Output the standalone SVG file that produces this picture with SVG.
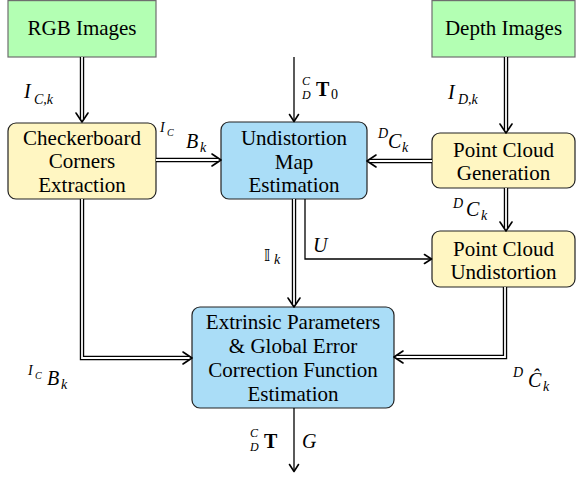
<svg xmlns="http://www.w3.org/2000/svg" width="576" height="478" viewBox="0 0 576 478">
<defs>
<style>
.green{fill:#b3ffb3;stroke:#6e6e6e;stroke-width:1.2}
.yellow{fill:#fff6c2;stroke:#222;stroke-width:1.2}
.blue{fill:#aaddf7;stroke:#222;stroke-width:1.2}
text{font-family:'Liberation Serif','Times New Roman',Times,'DejaVu Serif',serif;fill:#000}
.lbl{font-size:21px;text-anchor:middle}
.m{font-style:italic;font-size:20px}
.s{font-style:italic;font-size:14px}
.sc{font-style:italic;font-size:12px}
.ss{font-style:italic;font-size:10px}
.up{font-style:normal}
.bf{font-weight:bold;font-size:20px}
.bb{font-family:'DejaVu Sans','DejaVu Serif',sans-serif;font-size:16px}
.dout{fill:none;stroke:#000;stroke-width:4.4;stroke-linejoin:miter}
.din{fill:none;stroke:#fff;stroke-width:1.8;stroke-linejoin:miter}
.single{fill:none;stroke:#000;stroke-width:1.3}
.tip{fill:none;stroke:#000;stroke-width:1.6;stroke-linecap:round;stroke-linejoin:round}
</style>
</defs>

<g id="rgb">
<rect class="green" x="8" y="0.6" width="148" height="56.4"/>
<text class="lbl" x="82" y="35">RGB Images</text>
</g>
<g id="depth">
<rect class="green" x="432" y="0.6" width="143" height="56.4"/>
<text class="lbl" x="503.5" y="35">Depth Images</text>
</g>
<g id="checker">
<rect class="yellow" x="8" y="123" width="148" height="76" rx="8"/>
<text class="lbl" x="82" y="144.5">Checkerboard</text>
<text class="lbl" x="82" y="168">Corners</text>
<text class="lbl" x="82" y="191.5">Extraction</text>
</g>
<g id="undist">
<rect class="blue" x="221" y="122" width="146" height="77" rx="8"/>
<text class="lbl" x="294" y="145">Undistortion</text>
<text class="lbl" x="294" y="168.5">Map</text>
<text class="lbl" x="294" y="192">Estimation</text>
</g>
<g id="pcg">
<rect class="yellow" x="432" y="133" width="143" height="55" rx="8"/>
<text class="lbl" x="503.5" y="157">Point Cloud</text>
<text class="lbl" x="503.5" y="180">Generation</text>
</g>
<g id="pcu">
<rect class="yellow" x="432" y="231" width="143" height="56" rx="8"/>
<text class="lbl" x="503.5" y="255.5">Point Cloud</text>
<text class="lbl" x="503.5" y="279">Undistortion</text>
</g>
<g id="extrinsic">
<rect class="blue" x="192" y="307" width="202" height="101" rx="8"/>
<text class="lbl" x="293" y="329">Extrinsic Parameters</text>
<text class="lbl" x="293" y="353">&amp; Global Error</text>
<text class="lbl" x="293" y="377">Correction Function</text>
<text class="lbl" x="293" y="400.5">Estimation</text>
</g>

<g id="connectors">
<path class="dout" d="M82 57 V120"/><path class="din" d="M82 57 V120"/>
<polyline class="tip" points="76,113 82,122 88,113"/>

<path class="dout" d="M506 57 V130"/><path class="din" d="M506 57 V130"/>
<polyline class="tip" points="500,124 506,133 512,124"/>

<path class="dout" d="M156 160 H218"/><path class="din" d="M156 160 H218"/>
<polyline class="tip" points="212,154 221,160 212,166"/>

<path class="dout" d="M432 161 H370"/><path class="din" d="M432 161 H370"/>
<polyline class="tip" points="376,155 367,161 376,167"/>

<path class="dout" d="M294 199 V304"/><path class="din" d="M294 199 V304"/>
<polyline class="tip" points="288,298 294,307 300,298"/>

<path class="dout" d="M506 188 V228"/><path class="din" d="M506 188 V228"/>
<polyline class="tip" points="500,222 506,231 512,222"/>

<path class="dout" d="M505 287 V357 H397"/><path class="din" d="M505 287 V357 H397"/>
<polyline class="tip" points="403,351 394,357 403,363"/>

<path class="dout" d="M82 199 V358 H189"/><path class="din" d="M82 199 V358 H189"/>
<polyline class="tip" points="183,352 192,358 183,364"/>

<path class="single" d="M294 57 V121"/>
<polyline class="tip" points="289.5,114.5 294,121.5 298.5,114.5"/>

<path class="single" d="M305 199 V259 H431"/>
<polyline class="tip" points="424.5,254.5 431.5,259 424.5,263.5"/>

<path class="single" d="M294 408 V471"/>
<polyline class="tip" points="289.5,464.5 294,471.5 298.5,464.5"/>
</g>

<g id="labels">
<text class="m" x="24" y="98">I</text>
<text class="s" x="34" y="104">C,k</text>

<text class="s" x="160" y="132">I</text>
<text class="ss" x="167" y="136">C</text>
<text class="m" x="186" y="148">B</text>
<text class="s" x="200" y="152">k</text>

<text class="sc" x="302" y="85">C</text>
<text class="sc" x="302" y="98.5">D</text>
<text class="bf" x="316" y="96">T</text>
<text class="s up" x="331" y="99">0</text>

<text class="s" x="378" y="138">D</text>
<text class="m" x="388" y="148">C</text>
<text class="s" x="402" y="152">k</text>

<text class="m" x="448" y="99">I</text>
<text class="s" x="458" y="104">D,k</text>

<text class="bb" x="264" y="261">𝕀</text>
<text class="s" x="274" y="264">k</text>

<text class="m" x="313" y="252">U</text>

<text class="s" x="453" y="208">D</text>
<text class="m" x="466" y="216">C</text>
<text class="s" x="481" y="220">k</text>

<text class="s" x="513" y="377">D</text>
<text class="m" x="528" y="387">Ĉ</text>
<text class="s" x="543" y="391">k</text>

<text class="s" x="28" y="375">I</text>
<text class="ss" x="35" y="379">C</text>
<text class="m" x="47" y="385">B</text>
<text class="s" x="61" y="389">k</text>

<text class="sc" x="250" y="437">C</text>
<text class="sc" x="250" y="450.5">D</text>
<text class="bf" x="264" y="448">T</text>
<text class="m" x="302" y="448">G</text>
</g>
</svg>
